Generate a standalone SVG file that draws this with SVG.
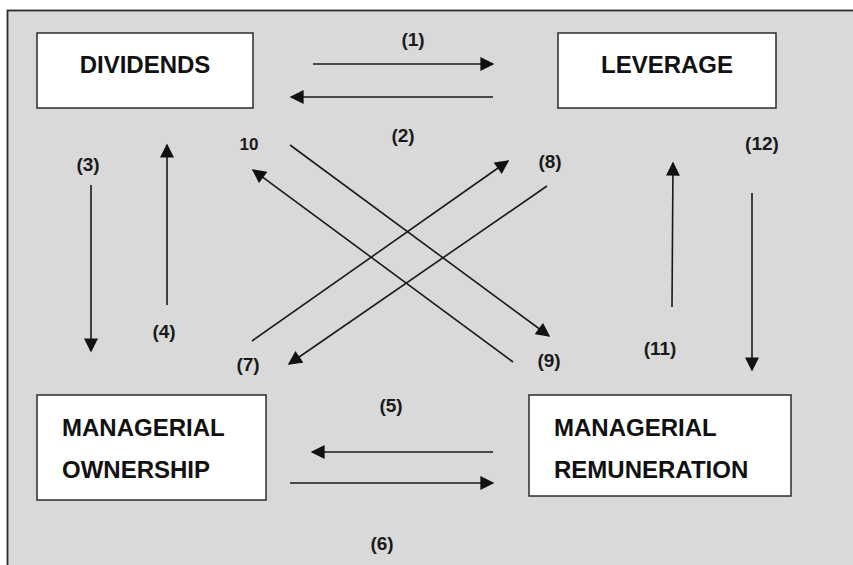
<svg xmlns="http://www.w3.org/2000/svg" width="853" height="565" viewBox="0 0 853 565">
<style>
.node rect{fill:#fff;stroke:#2b2b2b;stroke-width:1.5}
.nt{font-family:"Liberation Sans",Arial,sans-serif;font-weight:bold;font-size:24px;fill:#111}
.lb{font-family:"Liberation Sans",Arial,sans-serif;font-weight:bold;font-size:19px;fill:#1a1a1a;text-anchor:middle}
.c line{stroke:#1a1a1a;stroke-width:1.6;marker-end:url(#ah)}
</style>
<defs>
<marker id="ah" viewBox="0 0 10 10" refX="9" refY="5" markerUnits="userSpaceOnUse" markerWidth="15" markerHeight="14" orient="auto">
<path d="M0,0 L10,5 L0,10 z" fill="#111"/>
</marker>
</defs>
<rect x="0" y="0" width="853" height="565" fill="#fff"/>
<rect x="7.5" y="10.5" width="870" height="580" fill="#d9d9d9" stroke="#2b2b2b" stroke-width="1.8"/>
<g id="dividends" class="node"><rect x="37" y="33" width="216" height="75"/><text class="nt" x="145" y="73" text-anchor="middle">DIVIDENDS</text></g>
<g id="leverage" class="node"><rect x="558" y="33" width="218" height="75"/><text class="nt" x="667" y="73" text-anchor="middle">LEVERAGE</text></g>
<g id="ownership" class="node"><rect x="37" y="395" width="229" height="105"/><text class="nt" x="62" y="436">MANAGERIAL</text><text class="nt" x="62" y="478">OWNERSHIP</text></g>
<g id="remuneration" class="node"><rect x="529" y="395" width="262" height="101"/><text class="nt" x="554" y="436">MANAGERIAL</text><text class="nt" x="554" y="478">REMUNERATION</text></g>
<g id="connectors" class="c">
<line x1="313" y1="64" x2="493" y2="64"/>
<line x1="493" y1="97" x2="291" y2="97"/>
<line x1="91" y1="185" x2="91" y2="351"/>
<line x1="167" y1="305" x2="167" y2="145"/>
<line x1="493" y1="452" x2="312" y2="452"/>
<line x1="290" y1="483" x2="493" y2="483"/>
<line x1="672" y1="307" x2="673" y2="163"/>
<line x1="752" y1="193" x2="752" y2="370"/>
<line x1="290" y1="145" x2="549" y2="336"/>
<line x1="513" y1="362" x2="253" y2="170"/>
<line x1="252" y1="341" x2="508" y2="161"/>
<line x1="547" y1="186" x2="289" y2="364"/>
</g>
<g id="labels">
<text class="lb" x="413" y="46">(1)</text>
<text class="lb" x="403" y="142">(2)</text>
<text class="lb" x="88" y="171">(3)</text>
<text class="lb" x="164" y="338">(4)</text>
<text class="lb" x="391" y="412">(5)</text>
<text class="lb" x="382" y="550">(6)</text>
<text class="lb" x="248" y="371">(7)</text>
<text class="lb" x="550" y="168">(8)</text>
<text class="lb" x="549" y="367">(9)</text>
<text class="lb" x="249" y="150" style="font-size:17px">10</text>
<text class="lb" x="660" y="355">(11)</text>
<text class="lb" x="762" y="150">(12)</text>
</g>
</svg>
